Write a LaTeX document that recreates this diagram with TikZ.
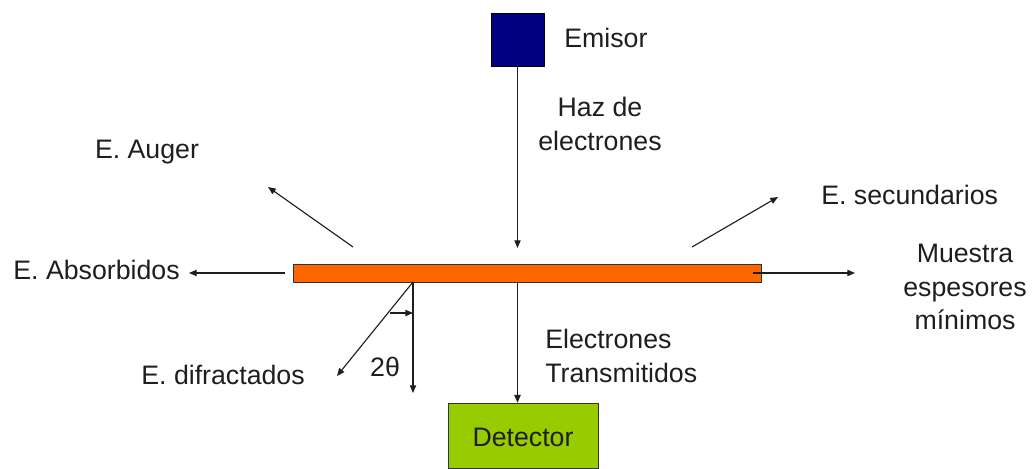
\documentclass[tikz,border=0pt]{standalone}
\usepackage{fontspec}
\setmainfont{Liberation Sans}
\usepackage{tikz}
\usetikzlibrary{arrows.meta}
\definecolor{cEmisor}{RGB}{0,0,128}
\definecolor{cMuestra}{RGB}{255,102,0}
\definecolor{cDetector}{RGB}{153,204,0}
\definecolor{cTexto}{RGB}{30,30,30}
\tikzset{
  etiqueta/.style={font=\fontsize{19}{24}\selectfont,text=cTexto,inner sep=0pt},
  flecha/.style={-{Triangle[length=5.5pt,width=4.5pt]},line width=0.8pt,draw=cTexto},
}
\begin{document}
\begin{tikzpicture}[x=0.025cm,y=0.025cm]
\useasboundingbox (0,0) rectangle (1036,468);
\node[draw=black,fill=cEmisor,minimum size=1.325cm,inner sep=0pt] (emisor) at (517.5,428) {};
\node[draw=black!80,fill=cMuestra,minimum width=11.7cm,minimum height=0.45cm,inner sep=0pt] (muestra) at (527,195) {};
\node[draw=black!80,fill=cDetector,minimum width=3.75cm,minimum height=1.625cm,inner sep=0pt] (detector) at (523,32.5) {};
\node[etiqueta] (lblDetector) at (523,31) {Detector};
\node[etiqueta,anchor=west] (lblEmisor) at (564,430) {Emisor};
\node[etiqueta,align=center] (lblHaz) at (600,344) {Haz de\\electrones};
\node[etiqueta] (lblAuger) at (147,316) {E. Auger};
\node[etiqueta,anchor=east] (lblAbsorbidos) at (180,198) {E. Absorbidos};
\node[etiqueta,anchor=west] (lblSecundarios) at (821,273) {E. secundarios};
\node[etiqueta,align=center] (lblMuestra) at (965,181) {Muestra\\espesores\\mínimos};
\node[etiqueta] (lblTheta) at (385,101) {2θ};
\node[etiqueta,anchor=east] (lblDifractados) at (305,93) {E. difractados};
\node[etiqueta,anchor=west,align=left] (lblTransmitidos) at (545,112) {Electrones\\Transmitidos};
\coordinate (haz) at (517.5,220);
\coordinate (augerIni) at (353,221);
\coordinate (augerFin) at (268,281);
\coordinate (absIni) at (285,195);
\coordinate (absFin) at (189,195);
\coordinate (secIni) at (692,221);
\coordinate (secFin) at (778,271);
\coordinate (derIni) at (753,195);
\coordinate (derFin) at (855,195);
\coordinate (dif) at (413,186);
\coordinate (difFin) at (337,92);
\coordinate (vertFin) at (413,75);
\coordinate (angIni) at (390,155);
\coordinate (angFin) at (413,155);
\draw[flecha] (emisor.south) -- (haz);
\draw[flecha] (augerIni) -- (augerFin);
\draw[flecha] (absIni) -- (absFin);
\draw[flecha] (secIni) -- (secFin);
\draw[flecha] (derIni) -- (derFin);
\draw[flecha] (dif) -- (difFin);
\draw[flecha] (dif) -- (vertFin);
\draw[flecha] (angIni) -- (angFin);
\draw[flecha] (emisor.south |- muestra.south) -- (emisor.south |- detector.north);
\end{tikzpicture}
\end{document}
